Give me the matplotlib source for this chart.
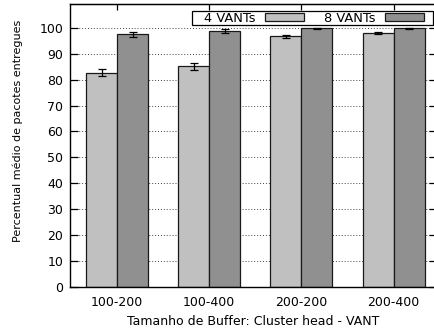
import matplotlib

matplotlib.use("Agg")
import matplotlib.pyplot as plt
from matplotlib.patches import Rectangle
import numpy as np

categories = ["100-200", "100-400", "200-200", "200-400"]
vants4 = [82.7, 85.2, 96.8, 98.2]
vants4_err = [1.3, 1.3, 0.5, 0.4]
vants8 = [97.6, 98.8, 99.9, 99.9]
vants8_err = [1.0, 0.9, 0.15, 0.15]

plt.rcParams["font.family"] = "DejaVu Sans"
plt.rcParams["font.size"] = 9

W, H = 435, 333
fig = plt.figure(figsize=(W / 100, H / 100), dpi=100)
# right edge of the box falls just outside the picture, as in the original
ax = fig.add_axes([70 / W, 1 - 286.5 / H, 367 / W, 282.5 / H])

x = np.arange(len(categories))
w = 0.336
err_kw = dict(ecolor="black", elinewidth=0.9, capsize=3, capthick=0.9)
ax.bar(x - w / 2, vants4, w, yerr=vants4_err, color="#c0c0c0",
       edgecolor="#1a1a1a", linewidth=0.9, label="4 VANTs", zorder=2,
       error_kw=err_kw)
ax.bar(x + w / 2, vants8, w, yerr=vants8_err, color="#909090",
       edgecolor="#1a1a1a", linewidth=0.9, label="8 VANTs", zorder=2,
       error_kw=err_kw)

ax.set_xlim(-0.51, 3.47)
ax.set_ylim(0, 109.3)
ax.set_yticks(range(0, 101, 10))
ax.set_xticks(x)
ax.set_xticklabels(categories)
ax.yaxis.grid(True, linestyle=(0, (1, 2)), color="#444444", linewidth=0.7)
ax.set_axisbelow(True)
ax.tick_params(axis="y", direction="in", length=6, width=0.9, right=True,
               labelsize=9, pad=5)
ax.tick_params(axis="x", length=0, pad=7, labelsize=9)
for s in ax.spines.values():
    s.set_linewidth(1.0)

# mirrored ticks on top of the group centres (gnuplot style)
top = ax.secondary_xaxis("top")
top.set_xticks(x)
top.set_xticklabels([])
top.tick_params(direction="in", length=4, width=0.9)

ax.set_xlabel("Tamanho de Buffer: Cluster head - VANT", fontsize=9)
ax.set_ylabel("Percentual médio de pacotes entregues", fontsize=8)
ax.yaxis.set_label_coords(-0.129, 0.55)

leg = ax.legend(loc="upper right", ncol=2, markerfirst=False, fontsize=9.4,
                frameon=False, borderpad=0, handlelength=3.0,
                handleheight=0.53, columnspacing=1.55, handletextpad=0.7,
                bbox_to_anchor=(424 / W, 1 - 11.5 / H),
                bbox_transform=fig.transFigure, borderaxespad=0)
leg.set_zorder(6)

# gnuplot-like key box: wider padding left/right than top/bottom
fig.canvas.draw()
ext = leg.get_window_extent()
box = Rectangle((ext.x0 - 12, ext.y0 - 0.5), ext.width + 21, ext.height + 1,
                transform=None, facecolor="white", edgecolor="black",
                linewidth=0.9, zorder=5, clip_on=False)
ax.add_artist(box)

fig.savefig("out.png", dpi=100)
